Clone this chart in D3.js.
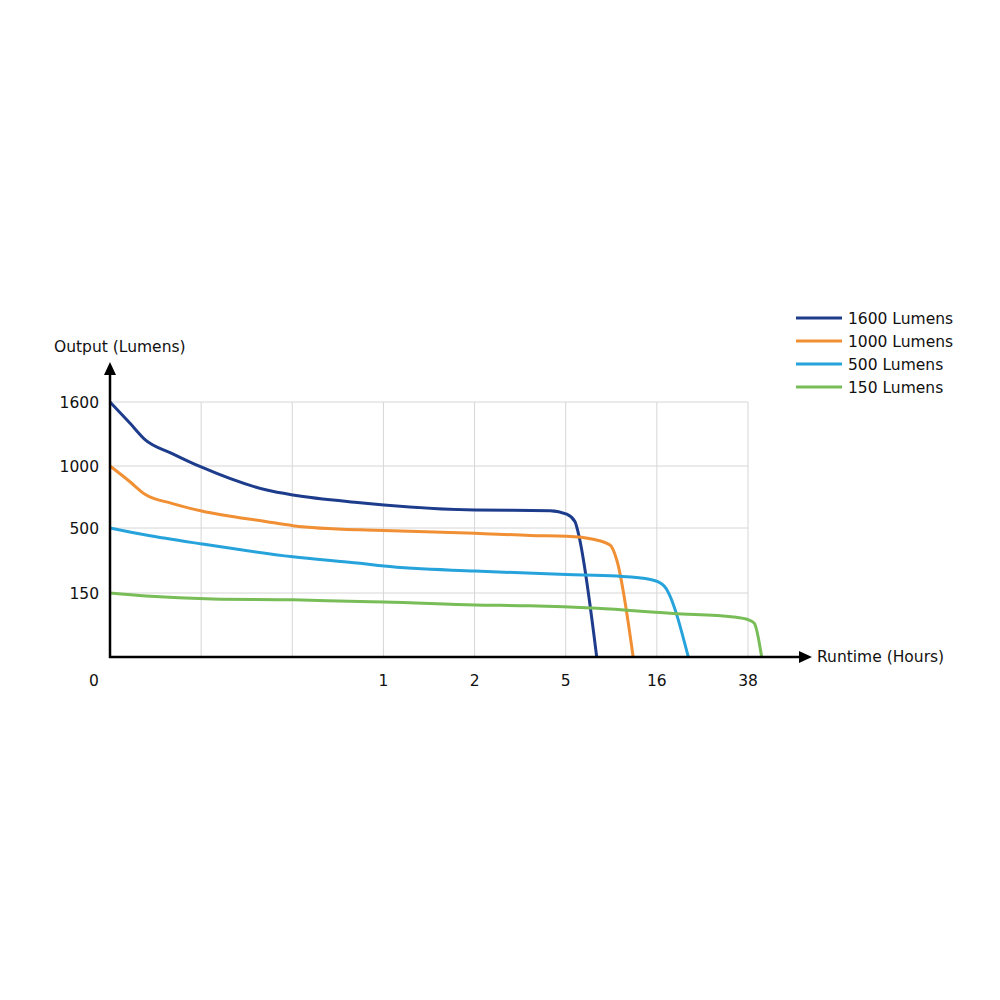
<!DOCTYPE html>
<html>
<head>
<meta charset="utf-8">
<script src="https://cdn.jsdelivr.net/npm/d3@7"></script>
<style>
  body { margin: 0; background: #fff; }
  text { font-family: "DejaVu Sans", Verdana, sans-serif; fill: #111; }
</style>
</head>
<body>
<div id="chart"></div>
<script>
// Axe x : positions (cases) sur l'axe du temps, libellés seulement à partir de 1h
const xSlots = [0, 1, 2, 3, 4, 5, 6, 7]
const xLabels = ["0", "", "", "1", "2", "5", "16", "38"]

// Axe y : niveaux affichés (échelle non linéaire)
const yLevels = [0, 150, 500, 1000, 1600]

const seriesNames = ["1600 Lumens", "1000 Lumens", "500 Lumens", "150 Lumens"]
const seriesColors = ["#1d3c8c", "#f08f33", "#27a3dc", "#78bd57"]

// Points : [position sur l'axe x, lumens]
const s1600 = [[0, 1600], [0.22, 1400], [0.384, 1248], [0.677, 1119], [1.006, 990], [1.72, 806],
   [2.008, 766], [2.743, 704], [3.006, 686], [4.005, 645], [4.828, 640], [5.011, 611], [5.102, 551],
   [5.138, 473], [5.34, 0]]
const s1000 = [[0, 1000], [0.219, 873], [0.384, 772], [0.677, 699], [1.006, 637], [1.72, 551],
   [2.008, 519], [2.743, 490], [3.006, 487], [4.005, 472], [4.61, 460], [5.011, 456], [5.30, 439],
   [5.486, 408], [5.56, 328], [5.74, 0]]
const s500 = [[0, 500], [0.395, 462], [1.006, 414], [2.008, 345], [2.743, 310], [3.006, 295],
   [4.005, 268], [5.011, 250], [5.56, 241], [5.93, 223], [6.07, 193], [6.345, 0]]
const s150 = [[0, 150], [0.395, 143], [1.13, 136], [2.008, 134], [2.743, 130], [3.006, 129],
   [4.005, 122], [4.6, 120], [5.34, 114], [6.18, 102], [6.84, 94], [7.02, 86], [7.07, 79], [7.15, 0]]
const allSeries = [s1600, s1000, s500, s150]

const width = 1000, height = 1000

const svg = d3.select("#chart").append("svg")
   .attr("width", width)
   .attr("height", height)

const x = d3.scaleLinear().domain([0, 7]).range([110, 748])
// échelle par morceaux : chaque niveau a le même espacement
const y = d3.scaleLinear().domain(yLevels).range([657, 593, 528, 466, 402])

// Grille
const grid = svg.append("g").attr("stroke", "#d6d6d6").attr("stroke-width", 1)
grid.selectAll("line.v")
   .data(xSlots.filter(d => d > 0))
   .join("line")
   .attr("x1", d => x(d)).attr("x2", d => x(d))
   .attr("y1", y(1600)).attr("y2", y(0))
grid.selectAll("line.h")
   .data(yLevels.filter(d => d > 0))
   .join("line")
   .attr("x1", x(0)).attr("x2", x(7))
   .attr("y1", d => y(d)).attr("y2", d => y(d))

// Courbes
const line = d3.line()
   .x(d => x(d[0]))
   .y(d => y(d[1]))
   .curve(d3.curveMonotoneX)

svg.append("g").selectAll("path")
   .data(allSeries)
   .join("path")
   .attr("d", d => line(d))
   .attr("fill", "none")
   .attr("stroke", (d, i) => seriesColors[i])
   .attr("stroke-width", 3)

// Axes avec flèches
const axes = svg.append("g")
axes.append("line")
   .attr("x1", x(0)).attr("x2", x(0))
   .attr("y1", y(0) + 1).attr("y2", 374)
   .attr("stroke", "#000").attr("stroke-width", 2.5)
axes.append("path")
   .attr("d", `M${x(0) - 6},375 L${x(0)},362 L${x(0) + 6},375 Z`)
   .attr("fill", "#000")
axes.append("line")
   .attr("x1", x(0) - 1).attr("x2", 800)
   .attr("y1", y(0)).attr("y2", y(0))
   .attr("stroke", "#000").attr("stroke-width", 2.5)
axes.append("path")
   .attr("d", `M799,${y(0) - 6} L812,${y(0)} L799,${y(0) + 6} Z`)
   .attr("fill", "#000")

// Libellés des axes
svg.append("text")
   .attr("x", 54).attr("y", 352)
   .attr("font-size", 15.5)
   .text("Output (Lumens)")
svg.append("text")
   .attr("x", 817).attr("y", 662)
   .attr("font-size", 15.5)
   .text("Runtime (Hours)")

// Graduations
svg.append("g").selectAll("text")
   .data(yLevels.filter(d => d > 0))
   .join("text")
   .attr("x", 99).attr("y", d => y(d) + 6)
   .attr("text-anchor", "end")
   .attr("font-size", 15.5)
   .text(d => d)

svg.append("g").selectAll("text")
   .data(xSlots.filter(d => xLabels[d] !== ""))
   .join("text")
   .attr("x", d => d === 0 ? 94 : x(d))
   .attr("y", 686)
   .attr("text-anchor", "middle")
   .attr("font-size", 15.5)
   .text(d => xLabels[d])

// Légende
const legend = svg.append("g")
const items = legend.selectAll("g")
   .data(seriesNames)
   .join("g")
   .attr("transform", (d, i) => `translate(796,${318 + i * 23})`)
items.append("line")
   .attr("x1", 0).attr("x2", 46)
   .attr("stroke", (d, i) => seriesColors[i])
   .attr("stroke-width", 3)
items.append("text")
   .attr("x", 52).attr("y", 6)
   .attr("font-size", 15.5)
   .text(d => d)
</script>
</body>
</html>
